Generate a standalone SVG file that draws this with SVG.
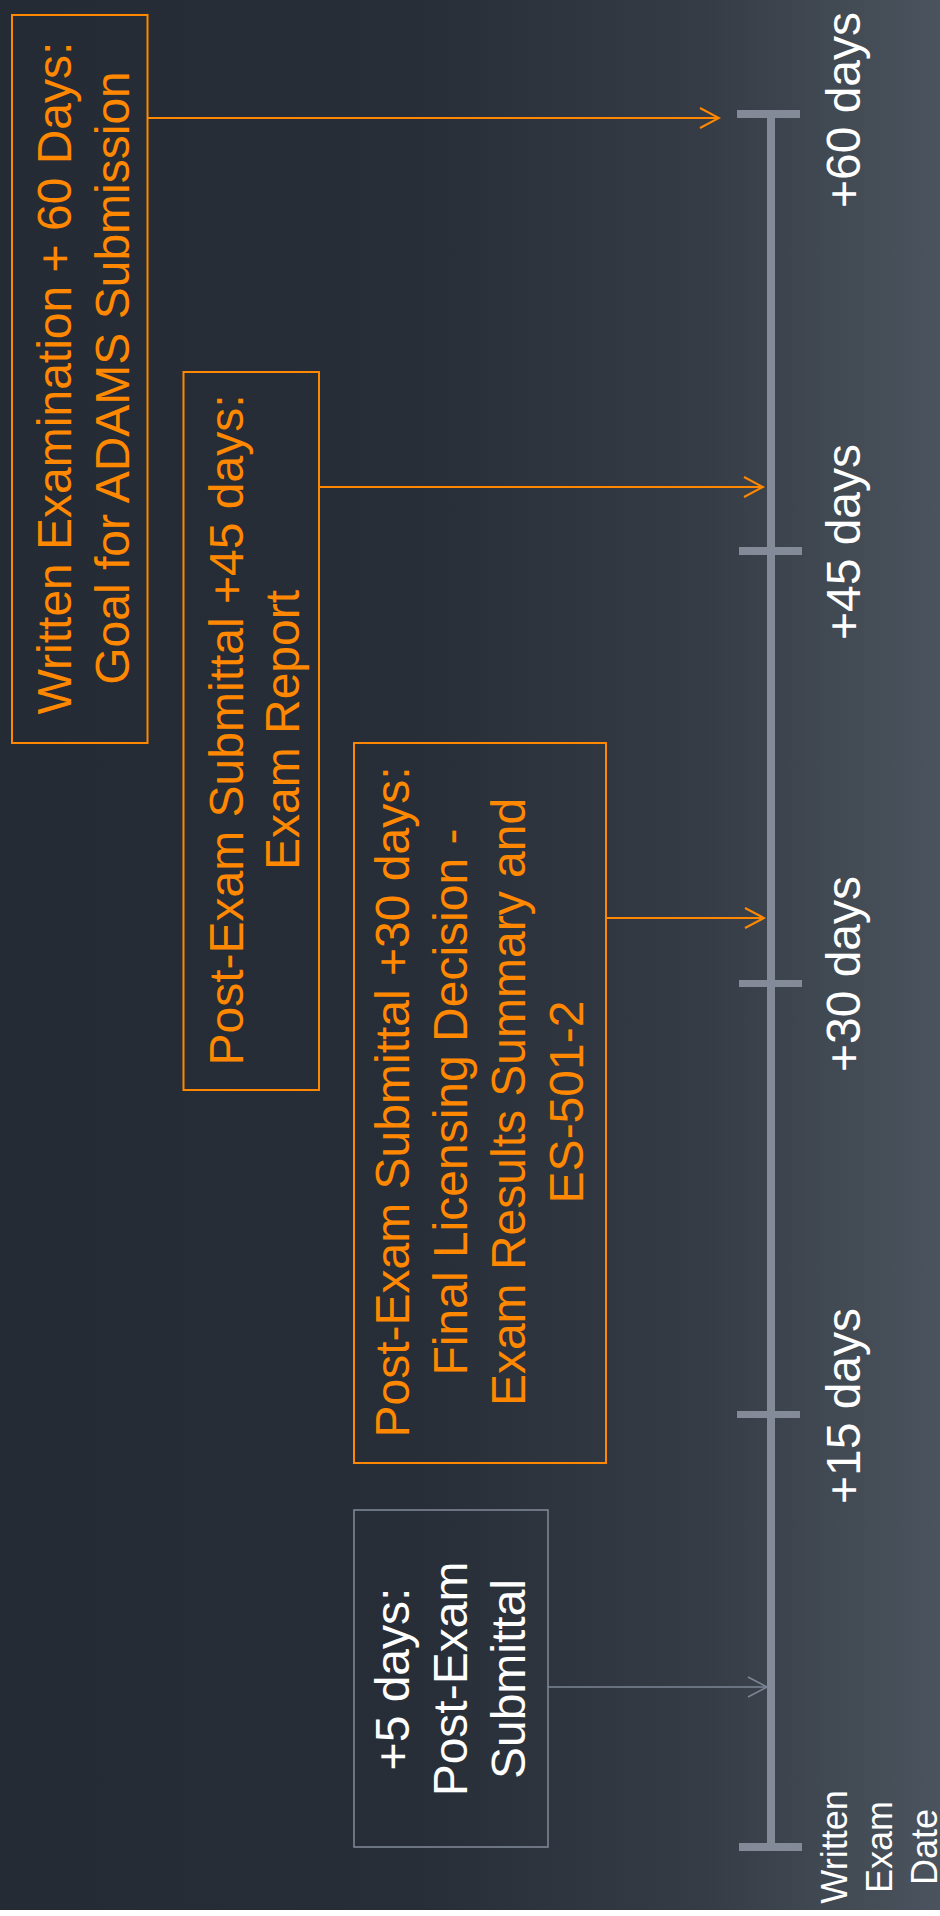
<svg xmlns="http://www.w3.org/2000/svg" width="940" height="1916" viewBox="0 0 940 1916">
<defs>
<linearGradient id="bg" x1="0" y1="0" x2="1" y2="0">
<stop offset="0" stop-color="#252b34"/>
<stop offset="0.45" stop-color="#282e37"/>
<stop offset="0.75" stop-color="#353c45"/>
<stop offset="1" stop-color="#4b545e"/>
</linearGradient>
<marker id="ao" markerUnits="userSpaceOnUse" markerWidth="22" markerHeight="24" viewBox="0 0 22 24" refX="20" refY="12" orient="auto">
<path d="M1,2 L20,12 L1,22" fill="none" stroke="#ff8800" stroke-width="2"/>
</marker>
<marker id="ag" markerUnits="userSpaceOnUse" markerWidth="22" markerHeight="24" viewBox="0 0 22 24" refX="20" refY="12" orient="auto">
<path d="M1,2 L20,12 L1,22" fill="none" stroke="#7d8695" stroke-width="1.6"/>
</marker>
</defs>
<style>
.t{font-family:"Liberation Sans",Arial,sans-serif;font-size:48px;text-anchor:middle}
.o{fill:#ff8800}
.w{fill:#ffffff}
.s{font-size:36px}
.bo{fill:none;stroke:#ff8800;stroke-width:2}
.bg{fill:none;stroke:#7d8695;stroke-width:1.6}
.tk{fill:#838b99}
</style>
<rect x="0" y="0" width="940" height="1916" fill="#ffffff"/>
<rect x="0" y="0" width="940" height="1910" fill="url(#bg)"/>

<g id="timeline">
<rect class="tk" x="767" y="114" width="8" height="1733"/>
<rect class="tk" x="737" y="110" width="63" height="8"/>
<rect class="tk" x="739" y="547" width="63" height="8"/>
<rect class="tk" x="739" y="980" width="63" height="7"/>
<rect class="tk" x="737" y="1411" width="63" height="7"/>
<rect class="tk" x="739" y="1843" width="63" height="8"/>
<text class="t w" transform="translate(860,110) rotate(-90)">+60 days</text>
<text class="t w" transform="translate(860,542) rotate(-90)">+45 days</text>
<text class="t w" transform="translate(860,974) rotate(-90)">+30 days</text>
<text class="t w" transform="translate(860,1406) rotate(-90)">+15 days</text>
<text class="t w s" transform="translate(847,1847) rotate(-90)"><tspan x="0" y="0">Written</tspan><tspan x="0" dy="45">Exam</tspan><tspan x="0" dy="45">Date</tspan></text>
</g>

<g id="connectors">
<line x1="147.5" y1="118" x2="719" y2="118" stroke="#ff8800" stroke-width="2" marker-end="url(#ao)"/>
<line x1="319" y1="487" x2="763" y2="487" stroke="#ff8800" stroke-width="2" marker-end="url(#ao)"/>
<line x1="606" y1="918" x2="764" y2="918" stroke="#ff8800" stroke-width="2" marker-end="url(#ao)"/>
<line x1="548" y1="1687" x2="767" y2="1687" stroke="#7d8695" stroke-width="1.6" marker-end="url(#ag)"/>
</g>

<g id="node-60">
<rect class="bo" x="12" y="15" width="135.5" height="728"/>
<text class="t o" transform="translate(71,378) rotate(-90)"><tspan x="0" y="0">Written Examination + 60 Days:</tspan><tspan x="0" dy="57.6">Goal for ADAMS Submission</tspan></text>
</g>

<g id="node-45">
<rect class="bo" x="183.5" y="372" width="135.5" height="718"/>
<text class="t o" transform="translate(243,730) rotate(-90)"><tspan x="0" y="0">Post-Exam Submittal +45 days:</tspan><tspan x="0" dy="56">Exam Report</tspan></text>
</g>

<g id="node-30">
<rect class="bo" x="354" y="743" width="252" height="720"/>
<text class="t o" transform="translate(409.4,1102) rotate(-90)"><tspan x="0" y="0">Post-Exam Submittal +30 days:</tspan><tspan x="0" dy="57.8">Final Licensing Decision -</tspan><tspan x="0" dy="57.8">Exam Results Summary and</tspan><tspan x="0" dy="57.8">ES-501-2</tspan></text>
</g>

<g id="node-5">
<rect class="bg" x="354" y="1510" width="194" height="337"/>
<text class="t w" transform="translate(409.4,1679) rotate(-90)"><tspan x="0" y="0">+5 days:</tspan><tspan x="0" dy="57.8">Post-Exam</tspan><tspan x="0" dy="57.8">Submittal</tspan></text>
</g>
</svg>
